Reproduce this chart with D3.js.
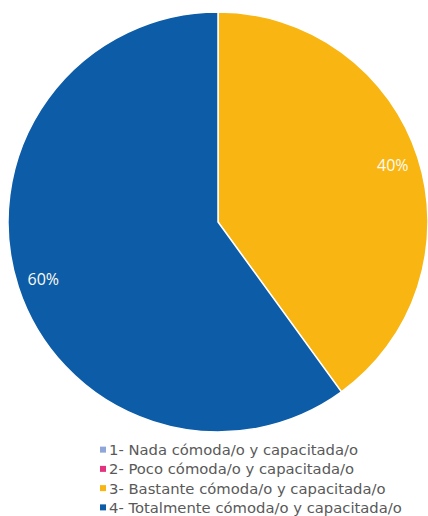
<!DOCTYPE html>
<html><head><meta charset="utf-8">
<script src="https://cdn.jsdelivr.net/npm/d3@7"></script>
<style>html,body{margin:0;padding:0;background:#fff;}</style>
</head><body>
<svg id="c" width="428" height="516"></svg>
<script>
const categories = ["1- Nada cómoda/o y capacitada/o","2- Poco cómoda/o y capacitada/o","3- Bastante cómoda/o y capacitada/o","4- Totalmente cómoda/o y capacitada/o"];
const values = [0, 0, 40, 60];
const colors = ["#8fa6d8","#e3337f","#f9b511","#0d5ca8"];

const svg = d3.select("#c");
const cx = 218, cy = 222, r = 210;
const pie = d3.pie().sort(null).value(d => d.v);
const data = pie(categories.map((c,i)=>({c, v: values[i], i})));
const arc = d3.arc().innerRadius(0).outerRadius(r);
const labelArc = d3.arc().innerRadius(r*0.875).outerRadius(r*0.875);
const g = svg.append("g").attr("transform",`translate(${cx},${cy})`);
g.selectAll("path").data(data.filter(d=>d.data.v>0)).join("path")
  .attr("d", arc).attr("fill", d=>colors[d.data.i])
  .attr("stroke","#fff").attr("stroke-width",1.5);
const total = d3.sum(values);
g.selectAll("text").data(data.filter(d=>d.data.v>0)).join("text")
  .attr("transform", d=>`translate(${labelArc.centroid(d)})`)
  .attr("text-anchor","middle").attr("dominant-baseline","central")
  .attr("fill","#fdfbf2").attr("font-family","'Open Sans', sans-serif").attr("font-size",16)
  .text(d=>Math.round(d.data.v/total*100)+"%");

const y = d3.scaleBand().domain(categories).range([440, 517]);
const lg = svg.append("g");
const items = lg.selectAll("g").data(categories).join("g")
  .attr("transform", d=>`translate(100,${y(d)+y.bandwidth()/2})`);
items.append("rect").attr("x",0).attr("y",-3).attr("width",6).attr("height",6)
  .attr("fill",(d,i)=>colors[i]);
const texts = items.append("text").attr("x",9).attr("dominant-baseline","central")
  .attr("fill","#595959").attr("font-family","'DejaVu Sans', sans-serif").attr("font-size",14)
  .text(d=>d);
// fit longest legend entry to the reference width
const longest = texts.filter((d,i)=>i===3).node();
const w = longest.getComputedTextLength();
const fs = Math.min(15, 14 * 293 / w);
texts.attr("font-size", fs);
</script>
</body></html>
